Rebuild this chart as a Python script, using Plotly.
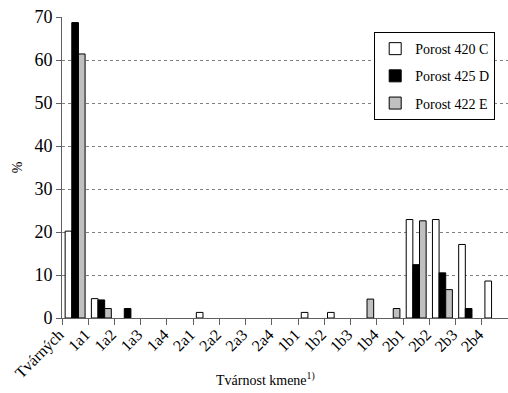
import plotly.graph_objects as go

categories = ["Tvárných", "1a1", "1a2", "1a3", "1a4", "2a1", "2a2", "2a3", "2a4",
              "1b1", "1b2", "1b3", "1b4", "2b1", "2b2", "2b3", "2b4"]
# None = no bar drawn for that class
porost_420C = [20.2, 4.5, None, None, None, 1.3, None, None, None, 1.3, 1.3, None, None, 22.9, 22.9, 17.1, 8.6]
porost_425D = [68.7, 4.2, 2.2, None, None, None, None, None, None, None, None, None, None, 12.4, 10.5, 2.2, None]
porost_422E = [61.4, 2.2, None, None, None, None, None, None, None, None, None, 4.4, 2.2, 22.6, 6.6, None, None]

series = [
    ("Porost 420 C", porost_420C, "white"),
    ("Porost 425 D", porost_425D, "black"),
    ("Porost 422 E", porost_422E, "#c0c0c0"),
]

FONT = "Liberation Serif"

fig = go.Figure()
for i, (name, vals, col) in enumerate(series):
    fig.add_trace(go.Bar(
        x=categories, y=vals, name=name, legendgroup=f"g{i}",
        marker=dict(color=col, line=dict(color="black", width=1)),
    ))

fig.add_annotation(
    text="Tvárnost kmene<sup>1)</sup>", xref="paper", yref="paper",
    x=0.457, y=-0.165, xanchor="center", yanchor="top", showarrow=False,
    font=dict(family=FONT, size=14, color="black"),
)

fig.update_layout(
    width=508, height=393,
    margin=dict(l=62, r=0, t=17, b=75),
    paper_bgcolor="white", plot_bgcolor="white",
    barmode="group", bargap=0.24, bargroupgap=0,
    font=dict(family=FONT, color="black", size=15),
    showlegend=True,
    legend=dict(
        x=0.70, y=0.95, xanchor="left", yanchor="top",
        bordercolor="black", borderwidth=1, bgcolor="white",
        font=dict(family=FONT, size=14),
        traceorder="grouped", tracegroupgap=6,
    ),
    xaxis=dict(
        type="category", tickangle=-45, tickson="boundaries",
        ticks="outside", ticklen=6, tickcolor="#606060",
        showline=True, linecolor="#606060", linewidth=1,
        showgrid=False, tickfont=dict(family=FONT, size=16), automargin=False,
        ticklabelshift=-16,
    ),
    yaxis=dict(
        range=[0, 70], dtick=10, ticks="outside", ticklen=5, tickcolor="#606060",
        showline=True, linecolor="#606060", linewidth=1,
        showgrid=True, gridcolor="#808080", griddash="dot", gridwidth=1,
        zeroline=False, tickfont=dict(family=FONT, size=18), automargin=False,
        title=dict(text="%", font=dict(family=FONT, size=14), standoff=8),
    ),
)

fig.write_html("out.html", config={"displayModeBar": False},
               post_script="document.body.style.margin='0';")
